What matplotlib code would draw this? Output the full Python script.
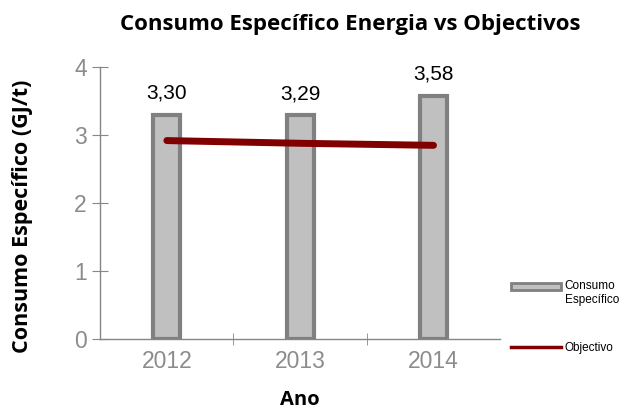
import matplotlib
matplotlib.use("Agg")
import matplotlib.pyplot as plt
from matplotlib.patches import Patch, Rectangle
from matplotlib.lines import Line2D
from matplotlib.legend_handler import HandlerPatch

anos = ["2012", "2013", "2014"]
consumo = [3.30, 3.29, 3.58]
objectivo = [2.92, 2.88, 2.85]
rotulos = ["3,30", "3,29", "3,58"]
yticks = [0, 1, 2, 3, 4]

fig = plt.figure(figsize=(6.26, 4.12), dpi=100)
ax = fig.add_axes([0.16, 0.177, 0.639, 0.66])

x = list(range(len(anos)))
ax.bar(x, consumo, width=0.2, color="#c0c0c0", edgecolor="#808080", linewidth=3, zorder=2)
ax.plot(x, objectivo, color="#800000", linewidth=5, solid_capstyle="round", zorder=3)
for xi, v, t in zip(x, consumo, rotulos):
    ax.text(xi, v + 0.18, t, ha="center", va="bottom", fontsize=15, family="Liberation Sans", color="black")

ax.set_xlim(-0.5, 2.5)
ax.set_ylim(0, 4)
ax.set_yticks(yticks)
ax.set_xticks(x)
ax.set_xticks([0.5, 1.5], minor=True)
ax.set_xticklabels(anos)
for s in ["top", "right"]:
    ax.spines[s].set_visible(False)
for s in ["left", "bottom"]:
    ax.spines[s].set_color("#868686")
    ax.spines[s].set_linewidth(1)
ax.tick_params(axis="y", length=11, direction="inout", color="#868686", labelsize=16.5, labelcolor="#8c8c8c", pad=4)
ax.tick_params(axis="x", which="major", length=0, labelsize=16.5, labelcolor="#8c8c8c", pad=8)
ax.tick_params(axis="x", which="minor", length=8, direction="inout", color="#868686")
for lab in ax.get_xticklabels() + ax.get_yticklabels():
    lab.set_family("Liberation Sans")

ax.set_ylabel("Consumo Específico (GJ/t)", fontsize=15.5, fontweight="bold", family="Open Sans")
ax.yaxis.set_label_coords(-0.168, 0.45)
ax.set_xlabel("Ano", fontsize=14.5, fontweight="bold", family="Open Sans", labelpad=12)
fig.text(0.56, 0.94, "Consumo Específico Energia vs Objectivos", ha="center", va="center",
         fontsize=16, fontweight="bold", family="Open Sans")


def shifted_patch(legend, orig_handle, xdescent, ydescent, width, height, fontsize):
    return Rectangle((-xdescent, -ydescent + 5), width, height)


handles = [Patch(facecolor="#c0c0c0", edgecolor="#808080", linewidth=2),
           Line2D([0], [0], color="#800000", linewidth=2.5)]
leg = fig.legend(handles, ["Consumo\nEspecífico", "Objectivo"], loc="upper left",
                 bbox_to_anchor=(0.8, 0.345), frameon=False, labelspacing=3.0,
                 handlelength=4.2, handleheight=0.5, handletextpad=0.3,
                 handler_map={Patch: HandlerPatch(patch_func=shifted_patch)},
                 prop={"family": "Liberation Sans", "size": 8.5})

fig.savefig("out.png", dpi=100)
